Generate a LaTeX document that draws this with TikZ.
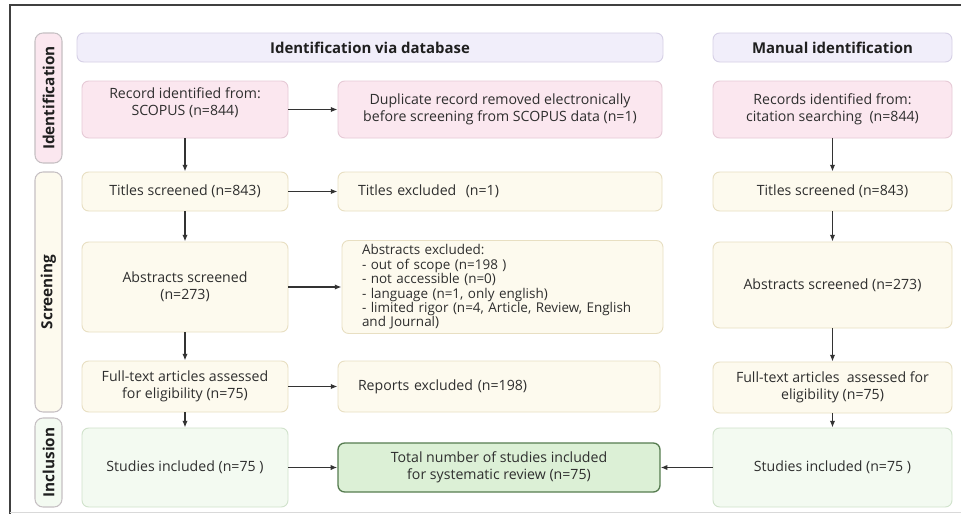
\documentclass[tikz,border=0pt]{standalone}
\usepackage{fontspec}
\setmainfont{Open Sans}
\usetikzlibrary{arrows.meta}
\definecolor{txt}{HTML}{2E2E2E}
\definecolor{pinkF}{HTML}{FBE7EF}
\definecolor{pinkB}{HTML}{E6CAD6}
\definecolor{lavF}{HTML}{F1EEFA}
\definecolor{lavB}{HTML}{D6D0E6}
\definecolor{creF}{HTML}{FDFAEE}
\definecolor{creB}{HTML}{E8DFC2}
\definecolor{grnF}{HTML}{F3FAF1}
\definecolor{grnB}{HTML}{D0E2CB}
\definecolor{totF}{HTML}{DCF0D6}
\definecolor{totB}{HTML}{567C50}
\definecolor{sideB}{HTML}{C6C0C3}
\definecolor{arr}{HTML}{333333}
\tikzset{
  sz/.style 2 args={minimum width=#1*0.75pt, minimum height=#2*0.75pt},
  box/.style={draw, rounded corners=5pt, line width=0.7pt, text=txt, align=center,
    font=\fontsize{10.6}{12.4}\selectfont, inner sep=0pt},
  pinkbox/.style={box, fill=pinkF, draw=pinkB},
  crebox/.style={box, fill=creF, draw=creB},
  grnbox/.style={box, fill=grnF, draw=grnB},
  totbox/.style={box, fill=totF, draw=totB, line width=1pt},
  leftbox/.style={align=left, text width=#1*0.75pt, inner xsep=20*0.75pt},
  hdr/.style={box, fill=lavF, draw=lavB, font=\fontsize{11.2}{12}\selectfont\bfseries, text=black!88},
  side/.style={draw=sideB, rounded corners=6pt, line width=0.8pt, minimum width=27*0.75pt,
    inner sep=0pt},
  sidetxt/.style={rotate=90, font=\fontsize{11.5}{12}\selectfont\bfseries, text=black!88},
  arrow/.style={-{Latex[length=5pt,width=4pt]}, draw=arr, line width=1pt},
}
\begin{document}
\begin{tikzpicture}[x=0.75pt,y=-0.75pt]
\useasboundingbox (0,0) rectangle (961,514);
\fill[white] (0,0) rectangle (961,514);
% frame
\draw[black!75, line width=1pt] (961,5) -- (10,5) -- (10,514);
\draw[black!15, line width=0.8pt] (10,512.5) -- (961,512.5);

% headers
\node[hdr, sz={586}{29}] (hL) at (370,47.5) {Identification via database};
\node[hdr, sz={239}{29}] (hR) at (832.5,47.5) {Manual identification};

% side labels
\node[side, fill=pinkF, minimum height=130*0.75pt] (sId) at (48.5,98) {};
\node[sidetxt] (tId) at (sId.center) {Identification};
\node[side, fill=creF, minimum height=240*0.75pt] (sSc) at (48.5,292) {};
\node[sidetxt] (tSc) at (sSc.center) {Screening};
\node[side, fill=grnF, minimum height=89*0.75pt] (sIn) at (48.5,462.5) {};
\node[sidetxt] (tIn) at (sIn.center) {Inclusion};

% row 1
\node[pinkbox, sz={206}{57}, text depth=12pt] (A) at (185,109.5) {Record identified from:\\SCOPUS (n=844)};
\node[pinkbox, sz={324}{57}] (B) at (500,109.5) {Duplicate record removed electronically\\before screening from SCOPUS data (n=1)};
\node[pinkbox, sz={239}{57}] (C) at (832.5,109.5) {Records identified from:\\citation searching\ \ (n=844)};

% row 2
\node[crebox, sz={206}{39}] (T1) at (185,191.5) {Titles screened (n=843)};
\node[crebox, sz={324}{39}, leftbox=284] (T2) at (500,191.5) {Titles excluded\ \ (n=1)};
\node[crebox, sz={239}{39}] (T3) at (832.5,191.5) {Titles screened (n=843)};

% row 3
\node[crebox, sz={206}{90}] (Ab1) at (185,287) {Abstracts screened\\(n=273)};
\node[crebox, sz={321}{93}, leftbox=281, font=\fontsize{10.1}{10.8}\selectfont] (Ab2) at (502.5,287)
  {Abstracts excluded:\\- out of scope (n=198 )\\- not accessible (n=0)\\- language (n=1, only english)\\- limited rigor (n=4, Article, Review, English\\and Journal)};
\node[crebox, sz={239}{86}] (Ab3) at (832.5,285) {Abstracts screened (n=273)};

% row 4
\node[crebox, sz={206}{51}] (F1) at (185,386.5) {Full-text articles assessed\\for eligibility (n=75)};
\node[crebox, sz={322}{51}, leftbox=282] (F2) at (499,386.5) {Reports excluded (n=198)};
\node[crebox, sz={239}{51}] (F3) at (832.5,387.5) {Full-text articles\ \ assessed for\\eligibility (n=75)};

% row 5
\node[grnbox, sz={206}{79}] (S1) at (185,467.5) {Studies included (n=75 )};
\node[totbox, sz={322}{49}] (Tot) at (499,467.5) {Total number of studies included\\for systematic review (n=75)};
\node[grnbox, sz={239}{79}] (S3) at (832.5,467.5) {Studies included (n=75 )};

% arrows
\draw[arrow] (A.east |- B) -- (B);
\draw[arrow] (A) -- (T1);
\draw[arrow] (C) -- (T3);
\draw[arrow] (T1) -- (T2);
\draw[arrow] (T1) -- (Ab1);
\draw[arrow] (T3) -- (Ab3);
\draw[arrow] (Ab1) -- (Ab2.west |- Ab1);
\draw[arrow] (Ab1) -- (F1);
\draw[arrow] (Ab3) -- (F3);
\draw[arrow] (F1) -- (F2);
\draw[arrow] (F1) -- (S1);
\draw[arrow] (F3) -- (S3);
\draw[arrow] (S1) -- (Tot);
\draw[arrow] (S3) -- (Tot);
\end{tikzpicture}
\end{document}
